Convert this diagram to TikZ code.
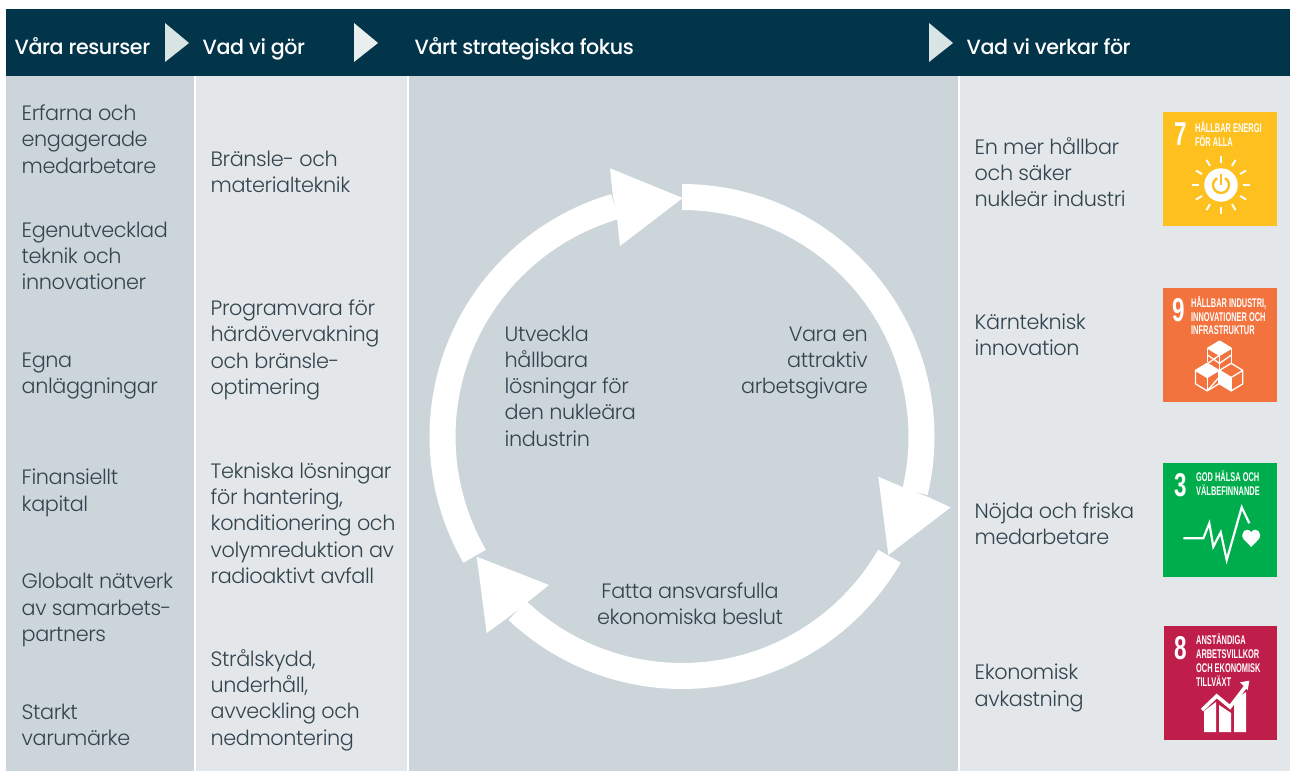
\documentclass[tikz,border=0pt]{standalone}
\usepackage{fontspec}
\setmainfont{Poppins Light}[LetterSpace=-2]
\newfontfamily\headfont{Poppins Medium}[LetterSpace=-2]
\newfontfamily\sdgfont{Liberation Sans Bold}
\definecolor{hdr}{HTML}{02344A}
\definecolor{darkcol}{HTML}{CCD5DA}
\definecolor{lightcol}{HTML}{E3E7EA}
\definecolor{txt}{HTML}{33444E}
\definecolor{sdgA}{HTML}{FDC01F}
\definecolor{sdgB}{HTML}{F3733F}
\definecolor{sdgC}{HTML}{00AD4D}
\definecolor{sdgD}{HTML}{BF1E4B}
\definecolor{triA}{HTML}{D9E5E5}
\definecolor{triB}{HTML}{E9EFEF}
\tikzset{
  x=1pt,y=-1pt,
  body/.style={font=\fontsize{20.8}{26.3}\selectfont,text=txt,inner sep=0pt,align=left,anchor=west},
  head/.style={font=\headfont\fontsize{20.6}{24}\selectfont,text=white,inner sep=0pt,anchor=base west},
  sdgnum/.style={font=\sdgfont\fontsize{33}{33}\selectfont,text=white,inner sep=0pt,anchor=base west,xscale=.68},
  sdgtxt/.style={font=\sdgfont\fontsize{12.6}{13.8}\selectfont,text=white,inner sep=0pt,align=left,anchor=north west,xscale=.59},
  ring/.style={fill=white},
  iconline/.style={draw=white,line width=2.2pt,line join=miter},
  cube/.style={draw=white,line width=1.3pt,line join=round},
}
\newcommand{\ringseg}[2]{\fill[ring] plot[domain=#1:#2,samples=70] ({682+252.5*cos(\x)},{436.5+252.5*sin(\x)}) -- plot[domain=#2:#1,samples=70] ({682+226.5*cos(\x)},{436.5+226.5*sin(\x)}) -- cycle;}
\begin{document}
\begin{tikzpicture}
\useasboundingbox (0,0) rectangle (1290,771);
\fill[white] (0,0) rectangle (1290,771);
% panels
\fill[darkcol] (6,76) rectangle (194,771);
\fill[lightcol] (196,76) rectangle (407,771);
\fill[darkcol] (409,76) rectangle (958,771);
\fill[lightcol] (960,76) rectangle (1290,771);
\fill[hdr] (6,9) rectangle (1290,76);
% header triangles
\fill[triA] (165,23) -- (189,43) -- (165,62) -- cycle;
\fill[triB] (354,23) -- (378,43) -- (354,62) -- cycle;
\fill[triA] (929,23) -- (953,43) -- (929,62) -- cycle;
% headers
\node[head] (h1) at (14.5,54) {Våra resurser};
\node[head] (h2) at (202.5,54) {Vad vi gör};
\node[head] (h3) at (414.5,54) {Vårt strategiska fokus};
\node[head] (h4) at (966.5,54) {Vad vi verkar för};
% column 1
\node[body] (a1) at (21.5,139) {Erfarna och\\engagerade\\medarbetare};
\node[body] (a2) at (21.5,256) {Egenutvecklad\\teknik och\\innovationer};
\node[body] (a3) at (21.5,376) {Egna\\anläggningar};
\node[body] (a4) at (21.5,493) {Finansiellt\\kapital};
\node[body] (a5) at (21.5,610) {Globalt nätverk\\av samarbets-\\partners};
\node[body] (a6) at (21.5,725) {Starkt\\varumärke};
% column 2
\node[body] (b1) at (210.5,172) {Bränsle- och\\materialteknik};
\node[body] (b2) at (210.5,350) {Programvara för\\härdövervakning\\och bränsle-\\optimering};
\node[body] (b3) at (210.5,523) {Tekniska lösningar\\för hantering,\\konditionering och\\volymreduktion av\\radioaktivt avfall};
\node[body] (b4) at (210.5,700) {Strålskydd,\\underhåll,\\avveckling och\\nedmontering};
% ring
\ringseg{-90}{13.4}
\fill[ring] (901.7,486.7) -- (878.3,476.7) -- (888.3,555) -- (950.7,507.3) -- (927.3,496.7) -- cycle;
\ringseg{30}{133.4}
\fill[ring] (529.3,600.7) -- (549,585) -- (476.7,556.7) -- (486.7,633) -- (507.7,617.7) -- cycle;
\ringseg{150}{253.7}
\fill[ring] (612.7,194.3) -- (610,168.3) -- (682.7,198) -- (620,246) -- (617.3,221) -- cycle;
% centre texts
\node[body] (c1) at (504.5,386) {Utveckla\\hållbara\\lösningar för\\den nukleära\\industrin};
\node[body,align=right,anchor=east] (c2) at (868,363) {Vara en\\attraktiv\\arbetsgivare};
\node[body,align=center,anchor=center] (c3) at (690,604) {Fatta ansvarsfulla\\ekonomiska beslut};
% column 4
\node[body] (d1) at (974.5,172) {En mer hållbar\\och säker\\nukleär industri};
\node[body] (d2) at (974.5,335) {Kärnteknisk\\innovation};
\node[body] (d3) at (974.5,524) {Nöjda och friska\\medarbetare};
\node[body] (d4) at (974.5,688) {Ekonomisk\\avkastning};
% SDG 7
\fill[sdgA] (1163,112) rectangle (1277,226);
\node[sdgnum] (n7) at (1174,145) {7};
\node[sdgtxt] (t7) at (1195,121) {HÅLLBAR ENERGI\\FÖR ALLA};
\fill[white] (1221,185) circle[radius=16.7];
\draw[sdgA,line width=2.4pt] (1221,185) ++(-60:8) arc[start angle=-60,delta angle=300,radius=8];
\draw[white,line width=5pt] (1221,170) -- (1221,183);
\draw[sdgA,line width=2.4pt] (1221,174) -- (1221,185);
\foreach \a in {0,30,...,330}
  \draw[white,line width=1.9pt] ({1221+22*cos(\a)},{185+22*sin(\a)}) -- ({1221+29*cos(\a)},{185+29*sin(\a)});
% SDG 9
\fill[sdgB] (1163,288) rectangle (1277,402);
\node[sdgnum] (n9) at (1172,321) {9};
\node[sdgtxt] (t9) at (1191,296) {HÅLLBAR INDUSTRI,\\INNOVATIONER OCH\\INFRASTRUKTUR};
\begin{scope}[shift={(1184.5,333.3)},x=0.3333pt,y=-0.3533pt]
\draw[cube,fill=white] (105,22) -- (140,42) -- (105,62) -- (70,42) -- cycle;
\draw[cube] (70,42) -- (70,82) (105,62) -- (105,105) (140,42) -- (140,85);
\draw[cube] (70,42) -- (105,62) -- (140,42);
\draw[cube] (70,62) -- (105,85) -- (140,62) (105,62) -- (70,85);
\draw[cube,fill=white] (68,85) -- (103,105) -- (68,125) -- (33,105) -- cycle;
\draw[cube] (33,105) -- (33,143) -- (68,163) -- (103,143) -- (103,105);
\draw[cube] (68,125) -- (68,163);
\draw[cube] (68,163) -- (103,125);
\draw[cube] (140,85) -- (175,105) -- (175,143) -- (140,163) -- (140,125) -- (175,105);
\draw[cube] (105,105) -- (140,85);
\draw[cube,fill=white] (105,105) -- (140,125) -- (140,163) -- (105,143) -- cycle;
\end{scope}
% SDG 3
\fill[sdgC] (1163,463) rectangle (1277,577);
\node[sdgnum] (n3) at (1174,496) {3};
\node[sdgtxt] (t3) at (1196,471) {GOD HÄLSA OCH\\VÄLBEFINNANDE};
\draw[iconline] (1183.3,538.3) -- (1203.3,538.3) -- (1209.3,523.3) -- (1213.3,546.7) -- (1220.7,532.3) -- (1226.7,560) -- (1241.7,507.3) -- (1249.3,523.3);
\fill[white] (1251.2,547) -- (1243.5,539) .. controls (1239.5,533) and (1246.2,526) .. (1251.2,532) .. controls (1256.2,526) and (1262.9,533) .. (1258.9,539) -- cycle;
% SDG 8
\fill[sdgD] (1164,626) rectangle (1277,740);
\node[sdgnum] (n8) at (1174,659) {8};
\node[sdgtxt] (t8) at (1196,634) {ANSTÄNDIGA\\ARBETSVILLKOR\\OCH EKONOMISK\\TILLVÄXT};
\draw[white,line width=3.6pt] (1202,710) -- (1216.7,696) -- (1230,707) -- (1246,686);
\fill[white] (1240,682.3) -- (1249.3,680.7) -- (1247.7,690) -- cycle;
\fill[white] (1204,732) -- (1204,711) -- (1216,702) -- (1216,732) -- cycle;
\fill[white] (1219,732) -- (1219,705) -- (1231,713) -- (1231,732) -- cycle;
\fill[white] (1234,732) -- (1234,700) -- (1246,692) -- (1246,732) -- cycle;
\end{tikzpicture}
\end{document}
